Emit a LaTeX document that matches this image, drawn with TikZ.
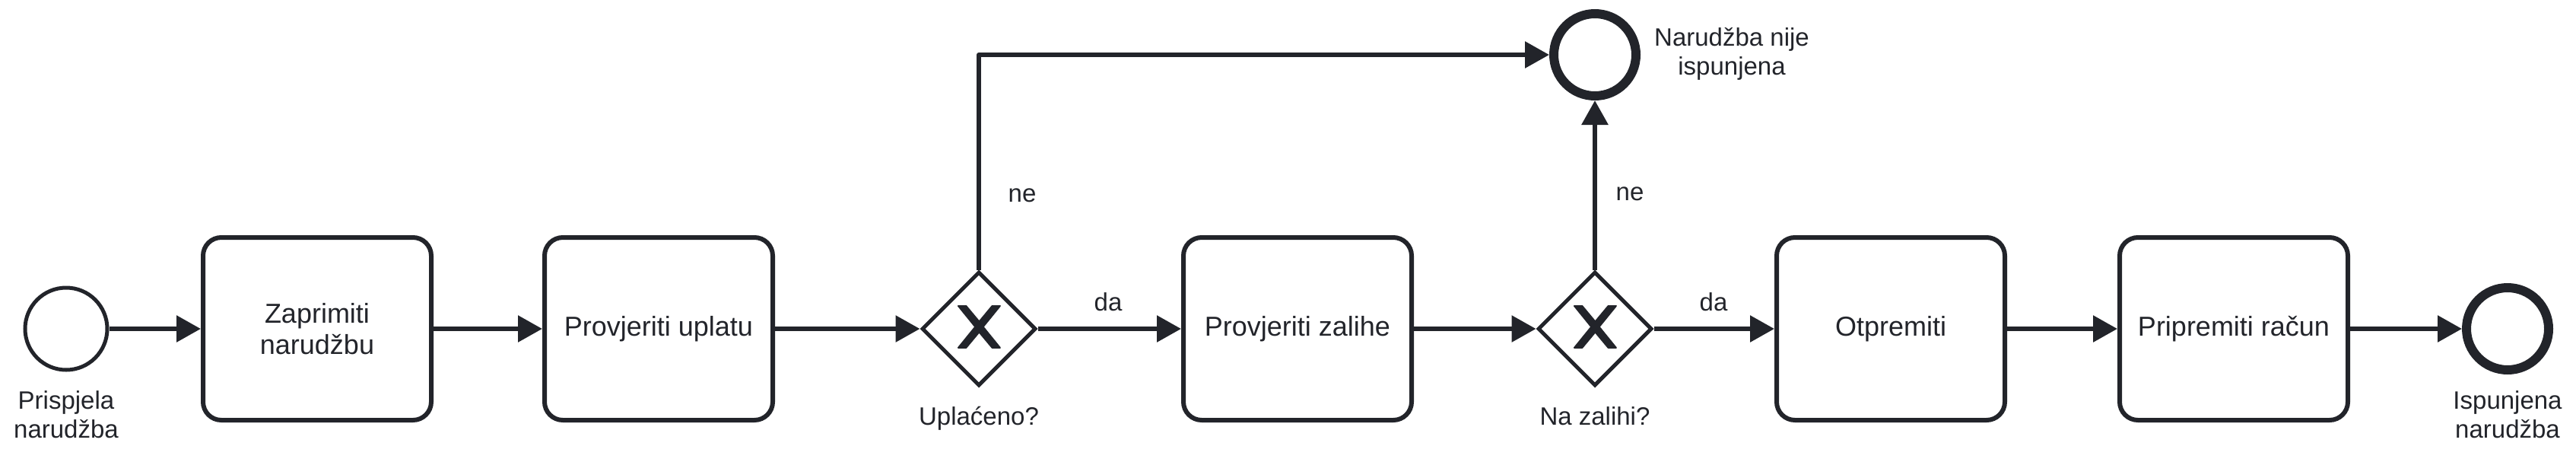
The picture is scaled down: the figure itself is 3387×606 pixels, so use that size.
\documentclass[tikz,border=0pt]{standalone}
\usepackage{fontspec}
\setmainfont{Liberation Sans}
\usetikzlibrary{arrows.meta,shapes.geometric}
\definecolor{ink}{HTML}{22242A}
\begin{document}
\begin{tikzpicture}[x=1pt,y=-1pt,
  every node/.style={text=ink},
  task/.style={draw=ink, line width=6pt, rounded corners=24pt, minimum width=300pt, minimum height=240pt, inner sep=0pt, align=center, font=\fontsize{36}{41}\selectfont},
  startev/.style={circle, draw=ink, line width=5pt, minimum size=108pt, inner sep=0pt},
  endev/.style={circle, draw=ink, line width=12pt, minimum size=108pt, inner sep=0pt},
  gate/.style={diamond, aspect=1, draw=ink, line width=5pt, minimum size=150pt, inner sep=0pt},
  lbl/.style={font=\fontsize{33}{38}\selectfont, align=center, anchor=base, inner sep=0pt},
  flow/.style={draw=ink, line width=6pt, -{Triangle[length=32pt,width=34pt]}, line join=round},
  xmark/.style={fill=ink, draw=ink, line width=2pt, line join=round},
]
\useasboundingbox (0,0) rectangle (3387,606);

% nodes
\node[startev] (start) at (87,432) {};
\node[task] (t1) at (417,432) {Zaprimiti\\narudžbu};
\node[task] (t2) at (866,432) {Provjeriti uplatu};
\node[gate] (g1) at (1287,432) {};
\node[task] (t3) at (1706,432) {Provjeriti zalihe};
\node[gate] (g2) at (2097,432) {};
\node[task] (t4) at (2486,432) {Otpremiti};
\node[task] (t5) at (2937,432) {Pripremiti račun};
\node[endev] (done) at (3297,432) {};
\node[endev] (fail) at (2097,72) {};

% gateway markers
\foreach \g in {g1,g2}{
  \filldraw[xmark, shift={(\g.center)}] (-27,-30) -- (-4.71,-2.57) -- (-27,24.86) -- (-16.71,24.86) -- (0.43,4.29) -- (17.57,24.86) -- (27.86,24.86) -- (5.57,-2.57) -- (27.86,-30) -- (17.57,-30) -- (0.43,-9.43) -- (-16.71,-30) -- cycle;
}

% labels (base = baseline of last line)
\node[lbl] (lstart) at (87,575) {Prispjela\\narudžba};
\node[lbl] (lg1) at (1287,558) {Uplaćeno?};
\node[lbl] (lg2) at (2097,558) {Na zalihi?};
\node[lbl] (ldone) at (3297,575) {Ispunjena\\narudžba};
\node[lbl] (lfail) at (2277,98) {Narudžba nije\\ispunjena};
\node[lbl] (ne1) at (1344,265) {ne};
\node[lbl] (ne2) at (2143,263) {ne};
\node[lbl] (da1) at (1457,408) {da};
\node[lbl] (da2) at (2253,408) {da};

% flows
\draw[flow] (start) -- (t1);
\draw[flow] (t1) -- (t2);
\draw[flow] (t2) -- (g1);
\draw[flow] (g1) -- (t3);
\draw[flow] (t3) -- (g2);
\draw[flow] (g2) -- (t4);
\draw[flow] (t4) -- (t5);
\draw[flow] (t5) -- (done);
\draw[flow] (g1.north) |- (fail.west);
\draw[flow] (g2.north) -- (fail.south);
\end{tikzpicture}
\end{document}
